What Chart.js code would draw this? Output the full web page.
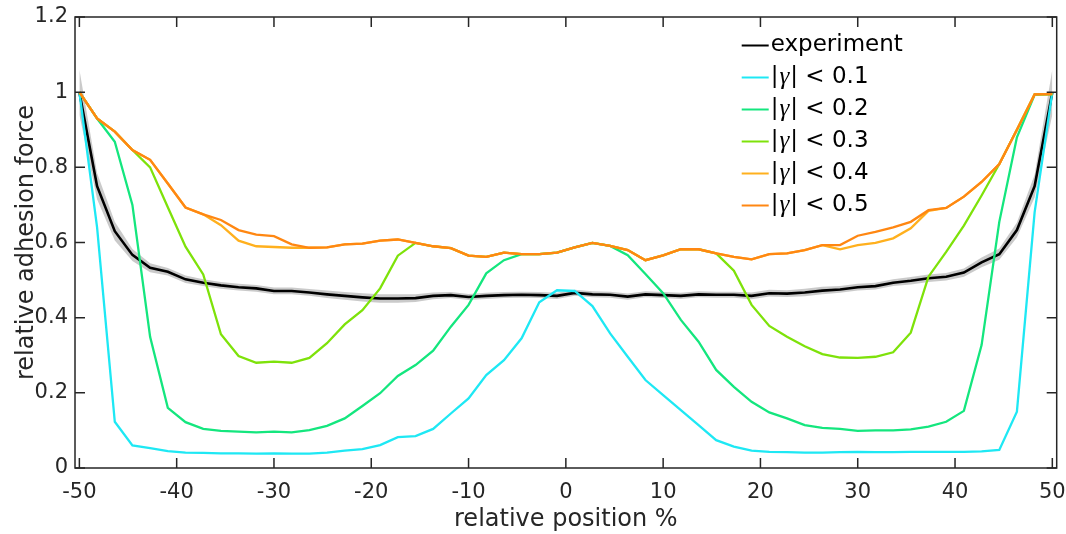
<!DOCTYPE html>
<html>
<head>
<meta charset="utf-8">
<script src="https://cdn.jsdelivr.net/npm/chart.js@4.4.0/dist/chart.umd.min.js"></script>
<style>
html,body{margin:0;padding:0;background:#fff;}
#wrap{width:1066px;height:534px;position:relative;}
</style>
</head>
<body>
<div id="wrap"><canvas id="c" width="1066" height="534"></canvas></div>
<script>
// ---- data ----
const xPositions = [-50, -48.18, -46.36, -44.55, -42.73, -40.91, -39.09, -37.27, -35.45, -33.64,
  -31.82, -30, -28.18, -26.36, -24.55, -22.73, -20.91, -19.09, -17.27, -15.45,
  -13.64, -11.82, -10, -8.18, -6.36, -4.55, -2.73, -0.91, 0.91, 2.73,
  4.55, 6.36, 8.18, 10, 11.82, 13.64, 15.45, 17.27, 19.09, 20.91,
  22.73, 24.55, 26.36, 28.18, 30, 31.82, 33.64, 35.45, 37.27, 39.09,
  40.91, 42.73, 44.55, 46.36, 48.18, 50];

const experiment = [1.0, 0.75, 0.63, 0.567, 0.533, 0.522, 0.502, 0.493, 0.486, 0.481,
  0.478, 0.471, 0.471, 0.467, 0.462, 0.458, 0.454, 0.451, 0.451, 0.452,
  0.458, 0.460, 0.455, 0.458, 0.460, 0.461, 0.460, 0.458, 0.466, 0.462,
  0.461, 0.456, 0.462, 0.460, 0.458, 0.462, 0.461, 0.461, 0.458, 0.465,
  0.464, 0.467, 0.472, 0.475, 0.481, 0.484, 0.493, 0.498, 0.505, 0.509,
  0.520, 0.547, 0.569, 0.633, 0.75, 1.0];

const experimentStd = [0.06, 0.035, 0.025, 0.016, 0.012, 0.010, 0.010, 0.009, 0.009, 0.009,
  0.009, 0.009, 0.009, 0.009, 0.010, 0.010, 0.011, 0.011, 0.011, 0.010,
  0.009, 0.008, 0.008, 0.008, 0.008, 0.008, 0.008, 0.008, 0.008, 0.008,
  0.008, 0.008, 0.008, 0.008, 0.008, 0.008, 0.008, 0.008, 0.009, 0.009,
  0.009, 0.010, 0.010, 0.009, 0.009, 0.009, 0.009, 0.010, 0.010, 0.010,
  0.011, 0.013, 0.015, 0.02, 0.03, 0.06];

const gamma01 = [1.0, 0.64, 0.123, 0.060, 0.053, 0.045, 0.041, 0.040, 0.039, 0.039,
  0.038, 0.039, 0.038, 0.038, 0.041, 0.046, 0.050, 0.061, 0.082, 0.085,
  0.104, 0.145, 0.185, 0.247, 0.287, 0.345, 0.441, 0.473, 0.471, 0.431,
  0.358, 0.296, 0.234, 0.194, 0.154, 0.114, 0.074, 0.057, 0.046, 0.043,
  0.042, 0.041, 0.041, 0.042, 0.043, 0.042, 0.042, 0.043, 0.043, 0.043,
  0.043, 0.044, 0.048, 0.150, 0.68, 1.0];

const gamma02 = [1.0, 0.93, 0.868, 0.70, 0.349, 0.160, 0.122, 0.104, 0.099, 0.097,
  0.095, 0.097, 0.095, 0.101, 0.112, 0.132, 0.165, 0.199, 0.245, 0.274,
  0.312, 0.376, 0.434, 0.518, 0.553, 0.569, 0.569, 0.573, 0.587, 0.599,
  0.591, 0.566, 0.516, 0.465, 0.394, 0.336, 0.261, 0.216, 0.176, 0.148,
  0.132, 0.114, 0.107, 0.104, 0.099, 0.100, 0.100, 0.103, 0.110, 0.123,
  0.152, 0.327, 0.655, 0.88, 0.993, 0.995];

const gamma03 = [1.0, 0.93, 0.895, 0.846, 0.80, 0.694, 0.589, 0.515, 0.356, 0.298,
  0.280, 0.283, 0.280, 0.293, 0.332, 0.382, 0.42, 0.478, 0.565, 0.599,
  0.590, 0.585, 0.565, 0.562, 0.573, 0.569, 0.569, 0.573, 0.587, 0.599,
  0.591, 0.580, 0.553, 0.566, 0.582, 0.582, 0.571, 0.525, 0.434, 0.378,
  0.349, 0.324, 0.303, 0.294, 0.293, 0.296, 0.308, 0.360, 0.509, 0.575,
  0.645, 0.725, 0.809, 0.90, 0.994, 0.995];

const gamma04 = [1.0, 0.93, 0.895, 0.846, 0.820, 0.757, 0.693, 0.675, 0.646, 0.605,
  0.590, 0.588, 0.586, 0.586, 0.587, 0.595, 0.597, 0.605, 0.608, 0.599,
  0.590, 0.585, 0.565, 0.562, 0.573, 0.569, 0.569, 0.573, 0.587, 0.599,
  0.591, 0.580, 0.553, 0.566, 0.582, 0.582, 0.571, 0.562, 0.555, 0.569,
  0.571, 0.580, 0.593, 0.582, 0.593, 0.599, 0.611, 0.638, 0.684, 0.692,
  0.722, 0.761, 0.809, 0.90, 0.994, 0.995];

const gamma05 = [1.0, 0.93, 0.895, 0.846, 0.820, 0.757, 0.693, 0.675, 0.660, 0.633,
  0.621, 0.617, 0.595, 0.586, 0.587, 0.595, 0.597, 0.605, 0.608, 0.599,
  0.590, 0.585, 0.565, 0.562, 0.573, 0.569, 0.569, 0.573, 0.587, 0.599,
  0.591, 0.580, 0.553, 0.566, 0.582, 0.582, 0.571, 0.562, 0.555, 0.569,
  0.571, 0.580, 0.593, 0.593, 0.618, 0.628, 0.640, 0.655, 0.686, 0.692,
  0.722, 0.761, 0.809, 0.90, 0.994, 0.995];

const gammaThresholds = ['0.1', '0.2', '0.3', '0.4', '0.5'];
const xTicks = [-50, -40, -30, -20, -10, 0, 10, 20, 30, 40, 50];
const xTickLabels = ['-50', '-40', '-30', '-20', '-10', '0', '10', '20', '30', '40', '50'];
const yTicks = [0, 0.2, 0.4, 0.6, 0.8, 1, 1.2];
const yTickLabels = ['0', '0.2', '0.4', '0.6', '0.8', '1', '1.2'];

// ---- styles ----
const FONT = "'DejaVu Sans', sans-serif";
const AX = '#262626';
const gammaColors = ['#1EE8F4', '#14E67E', '#7EE20A', '#FFB01E', '#FF8712'];

const toPts = ys => ys.map((y, i) => ({ x: xPositions[i], y: y }));
const gammaSeries = [gamma01, gamma02, gamma03, gamma04, gamma05];

const datasets = [
  { label: '_bandLow', data: toPts(experiment.map((v, i) => v - experimentStd[i])),
    borderWidth: 0, borderColor: 'rgba(0,0,0,0)', pointRadius: 0, fill: false, order: 9 },
  { label: '_bandHigh', data: toPts(experiment.map((v, i) => v + experimentStd[i])),
    borderWidth: 0, borderColor: 'rgba(0,0,0,0)', pointRadius: 0, fill: '-1',
    backgroundColor: 'rgba(150,150,150,0.5)', order: 8 },
  { label: 'experiment', data: toPts(experiment), borderColor: '#000000', borderWidth: 2.6,
    pointRadius: 0, fill: false, order: 7 }
];
gammaSeries.forEach((s, k) => {
  datasets.push({ label: '|γ| < ' + gammaThresholds[k], data: toPts(s), borderColor: gammaColors[k],
    borderWidth: 2.3, pointRadius: 0, fill: false, order: 6 - k });
});

const boxPlugin = {
  id: 'matlabBox',
  afterDatasetsDraw(chart) {
    const { ctx, chartArea: a, scales: { x, y } } = chart;
    ctx.save();
    ctx.strokeStyle = AX;
    ctx.lineWidth = 1.5;
    ctx.strokeRect(a.left, a.top, a.right - a.left, a.bottom - a.top);
    ctx.beginPath();
    const tl = 10;
    xTicks.forEach(v => {
      const px = x.getPixelForValue(v);
      ctx.moveTo(px, a.bottom); ctx.lineTo(px, a.bottom - tl);
      ctx.moveTo(px, a.top); ctx.lineTo(px, a.top + tl);
    });
    yTicks.forEach(v => {
      const py = y.getPixelForValue(v);
      ctx.moveTo(a.left, py); ctx.lineTo(a.left + tl, py);
      ctx.moveTo(a.right, py); ctx.lineTo(a.right - tl, py);
    });
    ctx.stroke();
    ctx.restore();
  }
};

const legendPlugin = {
  id: 'insideLegend',
  afterDraw(chart) {
    const { ctx, chartArea: a } = chart;
    ctx.save();
    const x0 = a.right - 315;
    const lineLen = 27;
    const tx = x0 + 29;
    const rowH = 32;
    const y0 = a.top + 28.5;
    const items = [{ color: '#000000', kind: 'exp' }].concat(
      gammaThresholds.map((t, k) => ({ color: gammaColors[k], kind: 'g', t: t })));
    ctx.textBaseline = 'middle';
    ctx.fillStyle = '#000';
    items.forEach((it, r) => {
      const yy = y0 + r * rowH;
      ctx.strokeStyle = it.color;
      ctx.lineWidth = 2;
      ctx.beginPath(); ctx.moveTo(x0, yy); ctx.lineTo(x0 + lineLen, yy); ctx.stroke();
      if (it.kind === 'exp') {
        ctx.font = "23px " + FONT;
        ctx.fillText('experiment', tx, yy);
      } else {
        let cx = tx;
        ctx.font = "23px " + FONT;
        ctx.fillText('|', cx, yy); cx += ctx.measureText('|').width;
        ctx.font = "italic 25px 'Liberation Serif', serif";
        ctx.fillText('γ', cx + 1, yy); cx += ctx.measureText('γ').width + 2;
        ctx.font = "23px " + FONT;
        ctx.fillText('| < ' + it.t, cx, yy);
      }
    });
    ctx.restore();
  }
};

new Chart(document.getElementById('c').getContext('2d'), {
  type: 'line',
  data: { datasets: datasets },
  options: {
    responsive: false,
    animation: false,
    events: [],
    layout: { padding: { top: 17, right: 9.3, left: 0, bottom: 0 } },
    plugins: { legend: { display: false }, tooltip: { enabled: false } },
    elements: { line: { tension: 0 }, point: { radius: 0 } },
    scales: {
      x: {
        type: 'linear', min: -50.45, max: 50.45,
        afterBuildTicks: s => { s.ticks = xTicks.map(v => ({ value: v })); },
        afterFit: s => { s.height = 66; s.paddingLeft = 0; s.paddingRight = 0; },
        grid: { display: false, drawTicks: false },
        border: { display: false },
        ticks: { callback: (v, i) => xTickLabels[i], font: { family: FONT, size: 21 }, color: AX,
          padding: 12, maxRotation: 0, autoSkip: false },
        title: { display: true, text: 'relative position %', font: { family: FONT, size: 24 },
          color: AX, padding: { top: 0, bottom: 0 } }
      },
      y: {
        type: 'linear', min: 0, max: 1.2,
        afterBuildTicks: s => { s.ticks = yTicks.map(v => ({ value: v })); },
        afterFit: s => { s.width = 75; s.paddingTop = 0; s.paddingBottom = 0; },
        grid: { display: false, drawTicks: false },
        border: { display: false },
        ticks: { callback: (v, i) => yTickLabels[i], font: { family: FONT, size: 21 }, color: AX,
          padding: 7, autoSkip: false },
        title: { display: true, text: 'relative adhesion force', font: { family: FONT, size: 24 },
          color: AX, padding: { top: 12, bottom: 0 } }
      }
    }
  },
  plugins: [boxPlugin, legendPlugin]
});
</script>
</body>
</html>
